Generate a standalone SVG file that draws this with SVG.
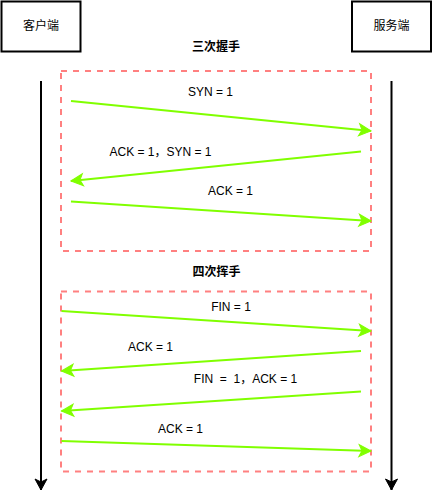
<svg xmlns="http://www.w3.org/2000/svg" width="432" height="500" viewBox="0 0 432 500">
<style>
.box{fill:#fff;stroke:#000;stroke-width:2}
.frame{fill:none;stroke:#FF8080;stroke-width:2;stroke-dasharray:6 6}
.life{stroke:#000;stroke-width:2;fill:none}
.msg{stroke:#80FF00;stroke-width:2;fill:none}
text{font-family:"Liberation Sans","Noto Sans CJK SC",sans-serif;font-size:12px;fill:#000;text-anchor:middle}
.title{font-weight:bold}
</style>
<defs>
<marker id="ga" markerUnits="userSpaceOnUse" markerWidth="16" markerHeight="16" viewBox="-14 -8 16 16" refX="0" refY="0" orient="auto">
<path d="M0,0 L-12,-6 L-9,0 L-12,6 Z" fill="#80FF00" stroke="#80FF00" stroke-width="1"/>
</marker>
<marker id="ba" markerUnits="userSpaceOnUse" markerWidth="16" markerHeight="16" viewBox="-14 -8 16 16" refX="0" refY="0" orient="auto">
<path d="M0,0 L-11,-6 L-8,0 L-11,6 Z" fill="#000" stroke="#000" stroke-width="1"/>
</marker>
</defs>
<g id="client"><rect class="box" x="1.5" y="1.5" width="79" height="50"/><text x="41" y="30">客户端</text></g>
<g id="server"><rect class="box" x="352" y="1.5" width="79" height="50"/><text x="391.5" y="30">服务端</text></g>
<g id="handshake"><rect class="frame" x="61" y="71" width="310" height="180"/><text class="title" x="216" y="51">三次握手</text></g>
<g id="wave"><rect class="frame" x="61" y="291.5" width="310" height="180"/><text class="title" x="216.5" y="276">四次挥手</text></g>
<g id="connectors">
<line class="life" x1="41" y1="81" x2="41" y2="490" marker-end="url(#ba)"/>
<line class="life" x1="391.5" y1="81" x2="391.5" y2="490" marker-end="url(#ba)"/>
<line class="msg" x1="71" y1="101" x2="371" y2="131" marker-end="url(#ga)"/>
<line class="msg" x1="361" y1="151.5" x2="71" y2="181" marker-end="url(#ga)"/>
<line class="msg" x1="71" y1="201.5" x2="371" y2="221" marker-end="url(#ga)"/>
<line class="msg" x1="61.5" y1="311" x2="371" y2="331" marker-end="url(#ga)"/>
<line class="msg" x1="361" y1="351" x2="61.5" y2="371" marker-end="url(#ga)"/>
<line class="msg" x1="361" y1="391.5" x2="61.5" y2="411" marker-end="url(#ga)"/>
<line class="msg" x1="61.5" y1="441" x2="371" y2="451" marker-end="url(#ga)"/>
</g>
<g id="labels">
<text x="210.5" y="96">SYN = 1</text>
<text x="160.5" y="156">ACK = 1，SYN = 1</text>
<text x="230.5" y="195">ACK = 1</text>
<text x="231" y="311">FIN = 1</text>
<text x="150.5" y="351">ACK = 1</text>
<text x="245.5" y="383" xml:space="preserve" style="white-space:pre">FIN  =  1，ACK = 1</text>
<text x="180.5" y="433">ACK = 1</text>
</g>
</svg>
